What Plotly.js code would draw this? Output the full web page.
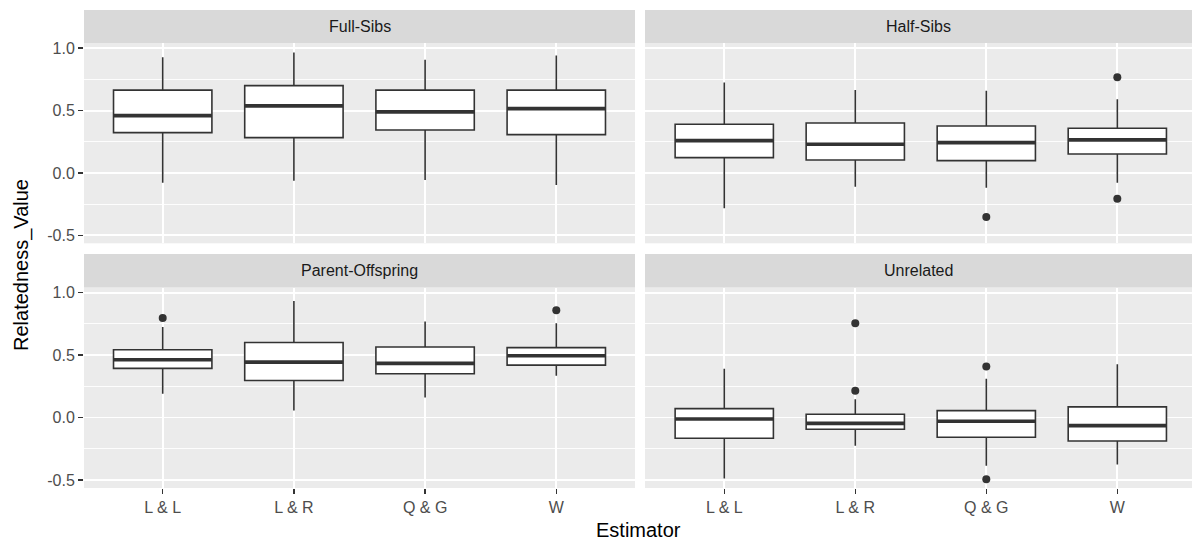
<!DOCTYPE html>
<html>
<head>
<meta charset="utf-8">
<script src="https://cdn.plot.ly/plotly-3.0.1.min.js"></script>
<style>html,body{margin:0;padding:0;background:#fff;}#chart{width:1192px;height:541px;}</style>
</head>
<body>
<div id="chart"></div>
<script>
// ---- data ----
const estimators = ['L & L', 'L & R', 'Q & G', 'W'];
const panels = ['Full-Sibs', 'Half-Sibs', 'Parent-Offspring', 'Unrelated'];
const yTickValues = [-0.5, 0, 0.5, 1.0];
const yTickLabels = ['-0.5', '0.0', '0.5', '1.0'];

const fullSibsLower  = [-0.078, -0.062, -0.056, -0.096];
const fullSibsQ1     = [0.323, 0.283, 0.345, 0.307];
const fullSibsMedian = [0.460, 0.538, 0.490, 0.516];
const fullSibsQ3     = [0.664, 0.700, 0.664, 0.664];
const fullSibsUpper  = [0.928, 0.966, 0.907, 0.941];
const fullSibsOutlierEst = [];
const fullSibsOutlierVal = [];

const halfSibsLower  = [-0.283, -0.110, -0.118, -0.078];
const halfSibsQ1     = [0.123, 0.104, 0.099, 0.152];
const halfSibsMedian = [0.259, 0.230, 0.243, 0.265];
const halfSibsQ3     = [0.391, 0.401, 0.377, 0.358];
const halfSibsUpper  = [0.725, 0.666, 0.660, 0.591];
const halfSibsOutlierEst = ['Q & G', 'W', 'W'];
const halfSibsOutlierVal = [-0.353, 0.768, -0.206];

const parentOffLower  = [0.190, 0.056, 0.160, 0.335];
const parentOffQ1     = [0.394, 0.297, 0.351, 0.420];
const parentOffMedian = [0.463, 0.444, 0.434, 0.495];
const parentOffQ3     = [0.543, 0.602, 0.565, 0.560];
const parentOffUpper  = [0.726, 0.934, 0.770, 0.755];
const parentOffOutlierEst = ['L & L', 'W'];
const parentOffOutlierVal = [0.798, 0.860];

const unrelatedLower  = [-0.487, -0.225, -0.386, -0.375];
const unrelatedQ1     = [-0.166, -0.094, -0.158, -0.187];
const unrelatedMedian = [-0.011, -0.046, -0.029, -0.064];
const unrelatedQ3     = [0.072, 0.027, 0.056, 0.086];
const unrelatedUpper  = [0.391, 0.147, 0.311, 0.428];
const unrelatedOutlierEst = ['L & R', 'L & R', 'Q & G', 'Q & G'];
const unrelatedOutlierVal = [0.755, 0.214, 0.410, -0.493];

// ---- build ----
const W = 1192, H = 541;
const px = v => v / W;
const py = v => 1 - v / H;
const BOX_W = 0.75;
const LINE = '#333333';
const FONT = 'Liberation Sans, Arial, Helvetica, sans-serif';

const panelData = [
  {lower: fullSibsLower, q1: fullSibsQ1, med: fullSibsMedian, q3: fullSibsQ3, upper: fullSibsUpper, oe: fullSibsOutlierEst, ov: fullSibsOutlierVal},
  {lower: halfSibsLower, q1: halfSibsQ1, med: halfSibsMedian, q3: halfSibsQ3, upper: halfSibsUpper, oe: halfSibsOutlierEst, ov: halfSibsOutlierVal},
  {lower: parentOffLower, q1: parentOffQ1, med: parentOffMedian, q3: parentOffQ3, upper: parentOffUpper, oe: parentOffOutlierEst, ov: parentOffOutlierVal},
  {lower: unrelatedLower, q1: unrelatedQ1, med: unrelatedMedian, q3: unrelatedQ3, upper: unrelatedUpper, oe: unrelatedOutlierEst, ov: unrelatedOutlierVal}
];

const pos = estimators.map((e, i) => i + 1);
const traces = [];
panelData.forEach((d, k) => {
  const xa = k === 0 ? 'x' : 'x' + (k + 1);
  const ya = k === 0 ? 'y' : 'y' + (k + 1);
  traces.push({
    type: 'box', xaxis: xa, yaxis: ya, x: pos,
    q1: d.q1, median: d.med, q3: d.q3, lowerfence: d.lower, upperfence: d.upper,
    width: BOX_W, boxpoints: false, whiskerwidth: 0,
    fillcolor: '#FFFFFF', line: {color: LINE, width: 1.6},
    showlegend: false, hoverinfo: 'skip'
  });
  // thick median segments
  const mx = [], my = [];
  d.med.forEach((m, i) => { mx.push(pos[i] - BOX_W / 2, pos[i] + BOX_W / 2, null); my.push(m, m, null); });
  traces.push({type: 'scatter', mode: 'lines', xaxis: xa, yaxis: ya, x: mx, y: my,
    line: {color: LINE, width: 3.6}, showlegend: false, hoverinfo: 'skip'});
  if (d.oe.length) {
    traces.push({type: 'scatter', mode: 'markers', xaxis: xa, yaxis: ya,
      x: d.oe.map(e => estimators.indexOf(e) + 1), y: d.ov,
      marker: {color: LINE, size: 8}, showlegend: false, hoverinfo: 'skip'});
  }
});

const plotL = [84, 645], plotR = [635, 1192];
const rowTop = [43, 287.5], rowBot = [243.3, 488];
const stripTop = [10, 254];
const xRanges = [[0.4, 4.6], [0.395, 4.57]];

function xAxis(col, row) {
  const bottom = row === 1;
  return {
    domain: [px(plotL[col]), px(plotR[col])],
    anchor: row * 2 + col === 0 ? 'y' : 'y' + (row * 2 + col + 1),
    range: xRanges[col], tickvals: pos, ticktext: estimators,
    showgrid: true, gridcolor: '#FFFFFF', gridwidth: 1.8, zeroline: false, showline: false,
    ticks: bottom ? 'outside' : '', ticklen: 5, tickwidth: 1.5, tickcolor: LINE,
    showticklabels: bottom, tickfont: {family: FONT, size: 16, color: '#4D4D4D'}, fixedrange: true
  };
}
function yAxis(col, row) {
  const left = col === 0;
  return {
    domain: [py(rowBot[row]), py(rowTop[row])],
    anchor: row * 2 + col === 0 ? 'x' : 'x' + (row * 2 + col + 1),
    range: [-0.564, 1.042], tickvals: yTickValues, ticktext: yTickLabels,
    showgrid: true, gridcolor: '#FFFFFF', gridwidth: 1.8, zeroline: false, showline: false,
    minor: {tickvals: [-0.25, 0.25, 0.75], showgrid: true, gridcolor: '#FFFFFF', gridwidth: 0.9, ticks: ''},
    ticks: left ? 'outside' : '', ticklen: 5, tickwidth: 1.5, tickcolor: LINE,
    showticklabels: left, tickfont: {family: FONT, size: 16, color: '#4D4D4D'}, fixedrange: true
  };
}

const layout = {
  width: W, height: H, margin: {l: 0, r: 0, t: 0, b: 0},
  paper_bgcolor: '#FFFFFF', plot_bgcolor: '#EBEBEB', showlegend: false,
  font: {family: FONT},
  xaxis: xAxis(0, 0), yaxis: yAxis(0, 0),
  xaxis2: xAxis(1, 0), yaxis2: yAxis(1, 0),
  xaxis3: xAxis(0, 1), yaxis3: yAxis(0, 1),
  xaxis4: xAxis(1, 1), yaxis4: yAxis(1, 1),
  shapes: [], annotations: []
};

panels.forEach((name, k) => {
  const col = k % 2, row = Math.floor(k / 2);
  layout.shapes.push({type: 'rect', xref: 'paper', yref: 'paper', layer: 'below',
    x0: px(plotL[col]), x1: px(plotR[col]), y0: py(rowTop[row]), y1: py(stripTop[row]),
    fillcolor: '#D9D9D9', line: {width: 0}});
  layout.annotations.push({xref: 'paper', yref: 'paper',
    x: px((plotL[col] + plotR[col]) / 2), y: py((stripTop[row] + rowTop[row]) / 2),
    xanchor: 'center', yanchor: 'middle', showarrow: false, text: name,
    font: {family: FONT, size: 16, color: '#1A1A1A'}});
});
layout.annotations.push({xref: 'paper', yref: 'paper', x: px(638), y: py(530),
  xanchor: 'center', yanchor: 'middle', showarrow: false, text: 'Estimator',
  font: {family: FONT, size: 20, color: '#000000'}});
layout.annotations.push({xref: 'paper', yref: 'paper', x: px(21), y: py(265),
  xanchor: 'center', yanchor: 'middle', showarrow: false, text: 'Relatedness_Value', textangle: -90,
  font: {family: FONT, size: 20, color: '#000000'}});

Plotly.newPlot('chart', traces, layout, {displayModeBar: false, staticPlot: true});
</script>
</body>
</html>
